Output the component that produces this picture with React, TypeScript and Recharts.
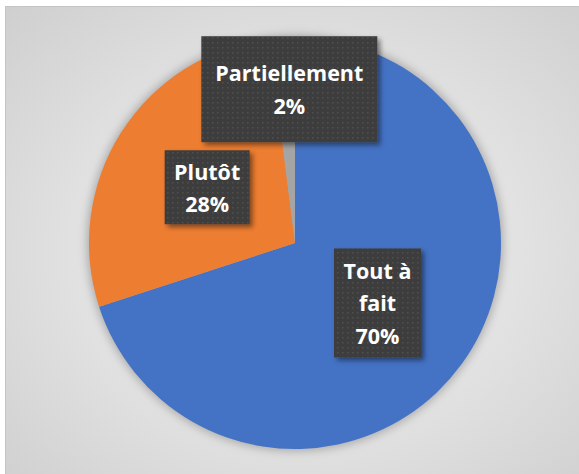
import React from 'react';
import { PieChart, Pie, Cell } from 'recharts';

const categories = ['Tout à fait', 'Plutôt', 'Partiellement'];
const values = [70, 28, 2];
const colors = ['#4472C4', '#ED7D31', '#A5A5A5'];
const labelLines = [['Tout à', 'fait'], ['Plutôt'], ['Partiellement']];

const data = categories.map((name, i) => ({ name, value: values[i] }));
const haloData = [{ name: 'halo', value: 1 }];

// label placement: radial factor of outer radius, box size, x nudge
const labelLayout = [
  { rf: 0.495, w: 87, h: 109, dx: 0 },
  { rf: 0.505, w: 85, h: 74, dx: 0 },
  { rf: 0.748, w: 176, h: 106, dx: 4 },
];

const FONT = '"Open Sans", "Noto Sans", sans-serif';
const RAD = Math.PI / 180;

const renderLabel = (props: any) => {
  const { cx, cy, midAngle, outerRadius, index, value } = props;
  const L = labelLayout[index];
  const r = outerRadius * L.rf;
  const x = cx + r * Math.cos(-midAngle * RAD) + L.dx;
  const y = cy + r * Math.sin(-midAngle * RAD);
  const lines = [...labelLines[index], `${value}%`];
  const lh = 32.5;
  const y0 = y - ((lines.length - 1) * lh) / 2;
  return (
    <g key={`lbl-${index}`}>
      <rect
        x={x - L.w / 2}
        y={y - L.h / 2}
        width={L.w}
        height={L.h}
        fill="url(#dots)"
        filter="url(#boxShadow)"
      />
      <text
        textAnchor="middle"
        fill="#ffffff"
        fontFamily={FONT}
        fontWeight={700}
        fontSize={21.5}
      >
        {lines.map((t, i) => (
          <tspan key={i} x={x} y={y0 + i * lh} dominantBaseline="central">
            {t}
          </tspan>
        ))}
      </text>
    </g>
  );
};

export default function App() {
  return (
    <div style={{ position: 'absolute', left: 0, top: 0, width: 579, height: 474, overflow: 'hidden', background: '#ffffff' }}>
      <svg width={0} height={0} style={{ position: 'absolute' }}>
        <defs>
          <pattern id="dots" width="5" height="5" patternUnits="userSpaceOnUse">
            <rect width="5" height="5" fill="#3e3e3e" />
            <rect x="2" y="2" width="1.5" height="1.5" fill="#4f4f4f" />
          </pattern>
          <filter id="boxShadow" x="-20%" y="-20%" width="150%" height="150%">
            <feDropShadow dx="3" dy="3" stdDeviation="2.5" floodColor="#000" floodOpacity="0.45" />
          </filter>
          <filter id="halo" x="-20%" y="-20%" width="140%" height="140%">
            <feGaussianBlur stdDeviation="5" />
          </filter>
        </defs>
      </svg>
      <div
        style={{
          position: 'absolute',
          left: 5,
          top: 6,
          width: 590,
          height: 490,
          border: '1px solid #c4c4c4',
          background: 'radial-gradient(ellipse at 50% 50%, #ededed 0%, #e5e5e5 45%, #cfcfcf 100%)',
        }}
      />
      <div style={{ position: 'absolute', left: 0, top: 0 }}>
        <PieChart width={579} height={474} margin={{ top: 0, right: 0, bottom: 0, left: 0 }}>
          <Pie
            data={haloData}
            dataKey="value"
            cx={295}
            cy={243}
            outerRadius={208}
            startAngle={90}
            endAngle={-270}
            stroke="none"
            isAnimationActive={false}
          >
            <Cell fill="#a8a8a8" filter="url(#halo)" />
          </Pie>
          <Pie
            data={data}
            dataKey="value"
            nameKey="name"
            cx={295}
            cy={243}
            outerRadius={206}
            startAngle={90}
            endAngle={-270}
            stroke="none"
            label={renderLabel}
            labelLine={false}
            isAnimationActive={false}
          >
            {data.map((d, i) => (
              <Cell key={d.name} fill={colors[i]} />
            ))}
          </Pie>
        </PieChart>
      </div>
    </div>
  );
}
